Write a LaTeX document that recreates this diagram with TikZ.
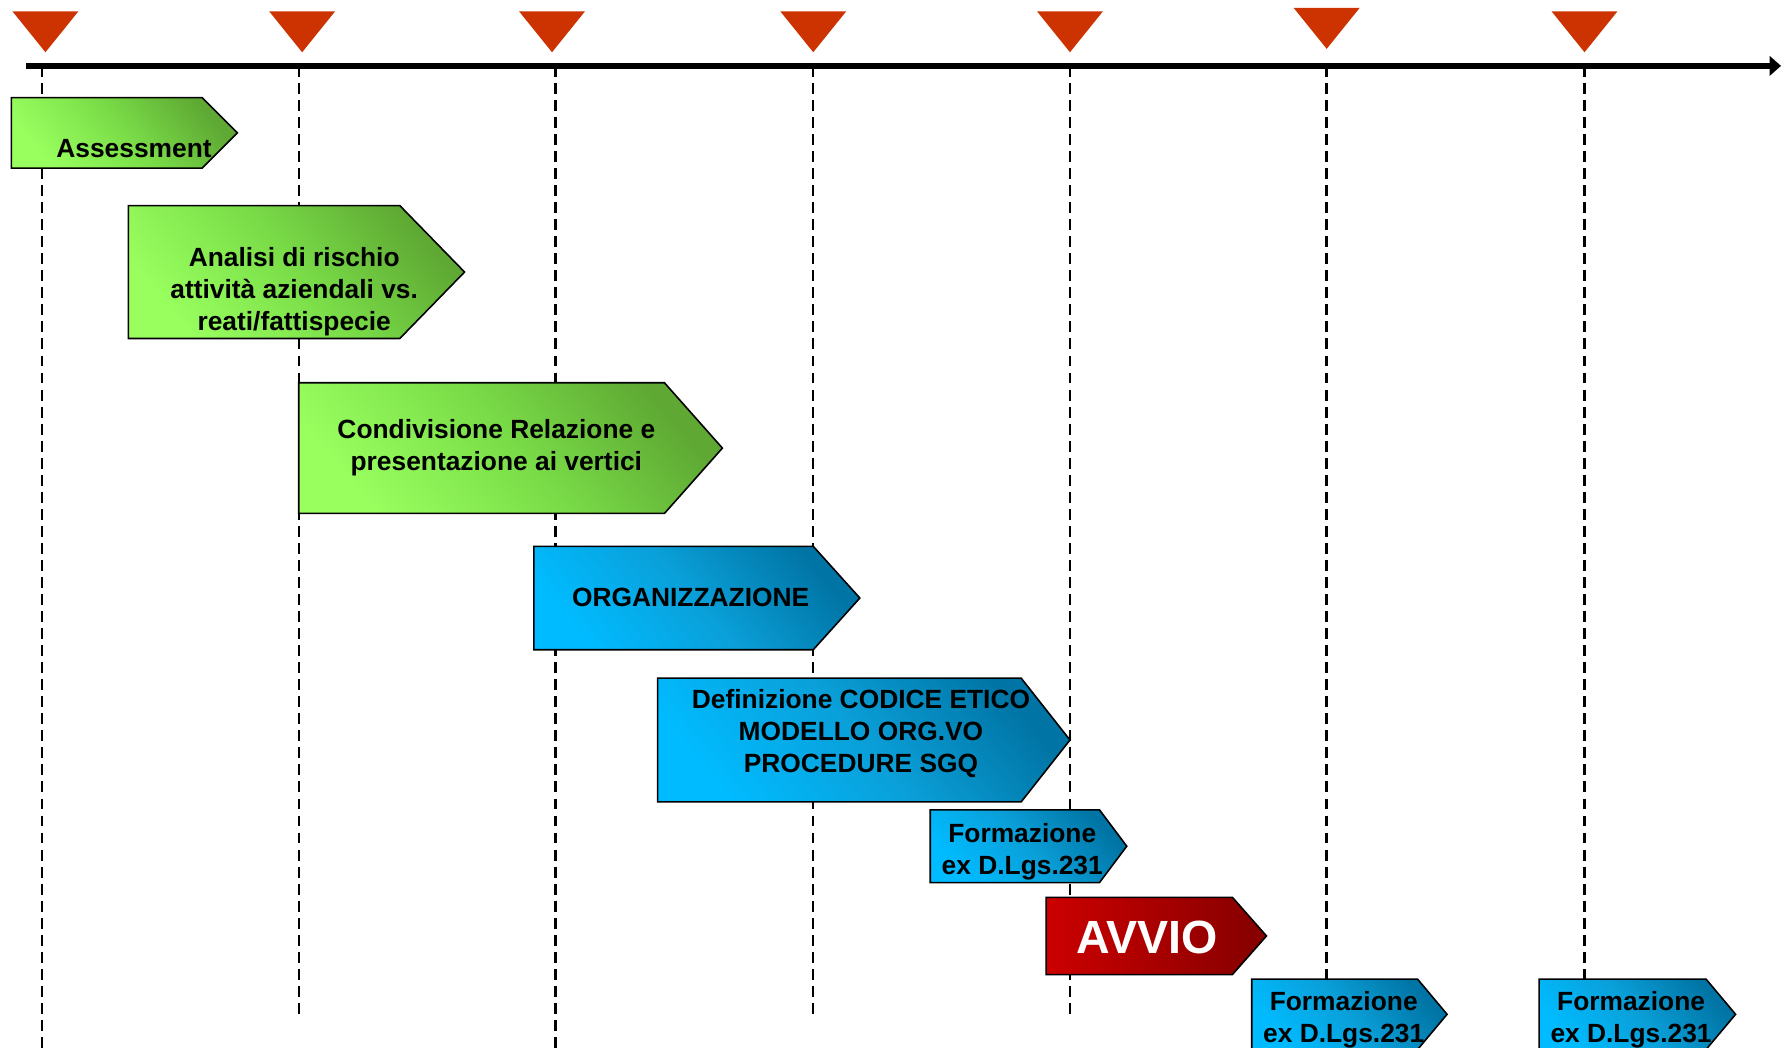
\documentclass[tikz,border=0pt]{standalone}
\usepackage{fontspec}
\setmainfont{Liberation Sans}
\usetikzlibrary{arrows.meta}

\definecolor{marker}{HTML}{CC3300}
\definecolor{greenlight}{HTML}{99FF5F}
\definecolor{greenmid}{HTML}{7ADD48}
\definecolor{greendark}{HTML}{5EA833}
\definecolor{bluelight}{HTML}{00BBFF}
\definecolor{bluemid}{HTML}{0A9FD8}
\definecolor{bluedark}{HTML}{0074A4}
\definecolor{redlight}{HTML}{CC0000}
\definecolor{reddark}{HTML}{840000}

% pentagon-shaped phase arrow: style, left, top, body right, tip, bottom
\newcommand\phasebox[6]{%
  \path[#1] (#2,#3) -- (#4,#3) -- (#5,{(#3+#6)/2}) -- (#4,#6) -- (#2,#6) -- cycle;%
}

\tikzset{
  boxline/.style={draw=black, line width=0.7pt, line join=miter},
  greenphase/.style={boxline, top color=greendark, bottom color=greenlight,
    middle color=greenmid, shading angle=-50},
  bluephase/.style={boxline, top color=bluedark, bottom color=bluelight,
    middle color=bluemid, shading angle=-50},
  redphase/.style={boxline, left color=redlight, right color=reddark},
  phasetext/.style={font=\fontsize{11.6pt}{14pt}\selectfont\bfseries,
    align=center, inner sep=0pt, text=black, yshift=-1.5pt},
  bigtext/.style={font=\fontsize{20.5pt}{24pt}\selectfont\bfseries,
    inner sep=0pt, text=white},
  guide/.style={draw=black, line width=1.05pt, dash pattern=on 4.8pt off 2.7pt},
  milestone/.style={fill=marker},
  axisline/.style={draw=black, line width=2.6pt,
    -{Triangle[length=5pt,width=8.5pt]}}
}

\begin{document}
\begin{tikzpicture}[x=0.5pt,y=-0.5pt]
\useasboundingbox (0,0) rectangle (1568,922);
\clip (0,0) rectangle (1568,922);

% tick points on the time axis and ends of the guide lines
\foreach \i/\x/\e in {1/37/930,2/263/897,3/489/930,4/716/897,5/942/897,6/1168/866,7/1395/866}{
  \coordinate (t\i) at (\x,58);
  \coordinate (e\i) at (\x,\e);
  \draw[guide] (t\i) -- (e\i);
}

% time axis
\coordinate (axstart) at (23,58);
\coordinate (axend) at (1568,58);
\draw[axisline] (axstart) -- (axend);

% milestone markers
\foreach \x/\t/\b in {40/10/46,266/10/46,486/10/46,716/10/46,942/10/46,1168/7/43,1395/10/46}{
  \fill[milestone] (\x-29,\t) -- (\x+29,\t) -- (\x,\b) -- cycle;
}

% phases
\phasebox{greenphase}{10}{86}{178}{209}{148}
\node[phasetext] (assess) at (118,128) {Assessment};

\phasebox{greenphase}{113}{181}{352}{409}{298}
\node[phasetext] (analisi) at (259,254) {Analisi di rischio\\attività aziendali vs.\\reati/fattispecie};

\phasebox{greenphase}{263}{337}{585}{636}{452}
\node[phasetext] (condiv) at (437,391) {Condivisione Relazione e\\presentazione ai vertici};

\phasebox{bluephase}{470}{481}{716}{757}{572}
\node[phasetext] (organ) at (608,523) {ORGANIZZAZIONE};

\phasebox{bluephase}{579}{597}{899}{942}{706}
\node[phasetext] (defin) at (758,643) {Definizione CODICE ETICO\\MODELLO ORG.VO\\PROCEDURE SGQ};

\phasebox{bluephase}{819}{713}{968}{992}{777}
\node[phasetext] (form1) at (900,747) {Formazione\\ex D.Lgs.231};

\phasebox{redphase}{921}{790}{1085}{1115}{858}
\node[bigtext] (avvio) at (1010,825) {AVVIO};

\phasebox{bluephase}{1102}{862}{1248}{1274}{924}
\node[phasetext] (form2) at (1183,895) {Formazione\\ex D.Lgs.231};

\phasebox{bluephase}{1355}{862}{1502}{1528}{924}
\node[phasetext] (form3) at (1436,895) {Formazione\\ex D.Lgs.231};

\end{tikzpicture}
\end{document}
